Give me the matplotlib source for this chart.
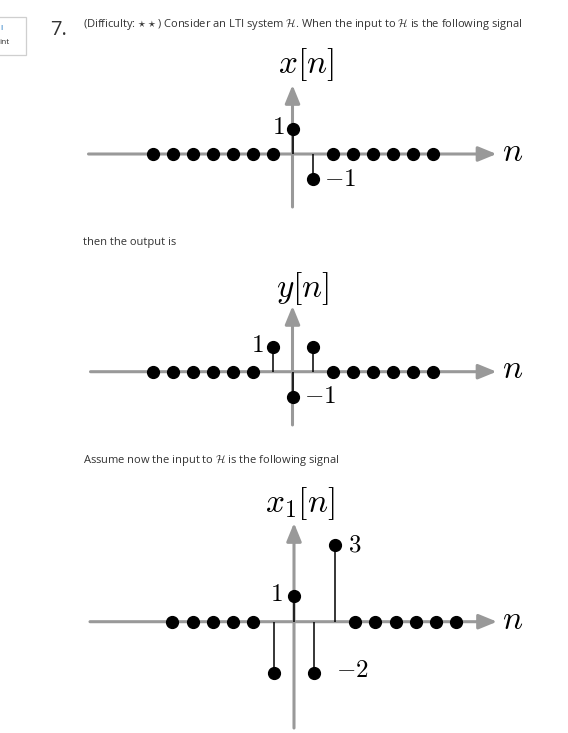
import matplotlib
matplotlib.use("Agg")
import matplotlib.pyplot as plt
from matplotlib.patches import Rectangle

plt.rcParams['mathtext.fontset'] = 'cm'
plt.rcParams['font.family'] = ['Open Sans', 'DejaVu Sans']

W, H = 568, 733

# signal values
n_x = list(range(-7, 8))
x_vals = [0, 0, 0, 0, 0, 0, 0, 1, -1, 0, 0, 0, 0, 0, 0]

n_y = list(range(-7, 8))
y_vals = [0, 0, 0, 0, 0, 0, 1, -1, 1, 0, 0, 0, 0, 0, 0]

n_x1 = list(range(-6, 9))
x1_vals = [0, 0, 0, 0, 0, -2, 1, -2, 3, 0, 0, 0, 0, 0, 0]

question = (r"(Difficulty: $\star\star$) Consider an LTI system $\mathcal{H}$. "
            r"When the input to $\mathcal{H}$ is the following signal")
middle = "then the output is"
lower = r"Assume now the input to $\mathcal{H}$ is the following signal"

txt = '#333333'
gray = '#999999'

fig = plt.figure(figsize=(W / 100, H / 100), dpi=100)

# page layer in pixel coordinates
bg = fig.add_axes([0, 0, 1, 1])
bg.set_xlim(0, W)
bg.set_ylim(H, 0)
bg.axis('off')

bg.add_patch(Rectangle((-2, 17), 27.5, 38, fill=False, ec='#cfcfcf', lw=0.9))
bg.text(0, 29, "l", color='#0f6cbf', fontsize=6, va='center')
bg.text(-1, 43, "int", color=txt, fontsize=6, va='center')
bg.text(50, 30, "7.", color=txt, fontsize=14.5, va='center')
bg.text(83, 25, question, color=txt, fontsize=8.05, va='center')
bg.text(83, 243, middle, color=txt, fontsize=8.05, va='center')
bg.text(83, 460, lower, color=txt, fontsize=8.05, va='center')


def signal_axes(top, bottom, n0, y0, ux, uy):
    ax = fig.add_axes([0, 1 - bottom / H, 1, (bottom - top) / H])
    ax.set_xlim(-n0 / ux, (W - n0) / ux)
    ax.set_ylim((y0 - bottom) / uy, (y0 - top) / uy)
    ax.axis('off')
    return ax


def draw_signal(ax, n, vals, xr, yr):
    ap = dict(arrowstyle='-|>,head_length=1.1,head_width=0.45', color=gray,
              lw=2.2, shrinkA=0, shrinkB=0, mutation_scale=10)
    ax.annotate('', xy=(xr[1], 0), xytext=(xr[0], 0), arrowprops=ap)
    ax.annotate('', xy=(0, yr[1]), xytext=(0, yr[0]), arrowprops=ap)
    ax.vlines(n, 0, vals, color='k', lw=1.1, zorder=3)
    ax.plot(n, vals, 'o', color='k', ms=8.5, zorder=4, clip_on=False)


# x[n]
ax1 = signal_axes(40, 215, 292.5, 154, 20, 25)
draw_signal(ax1, n_x, x_vals, (-10.2, 10.2), (-2.12, 2.76))
ax1.text(0.68, 3.56, r"$x[n]$", fontsize=24, ha='center', va='center')
ax1.text(10.98, 0.06, r"$n$", fontsize=24, ha='center', va='center')
ax1.text(-0.4, 1.05, r"$1$", fontsize=18, ha='right', va='center')
ax1.text(1.55, -1.0, r"$-1$", fontsize=18, ha='left', va='center')

# y[n]
ax2 = signal_axes(260, 430, 292.5, 371.7, 20, 25)
draw_signal(ax2, n_y, y_vals, (-10.1, 10.2), (-2.13, 2.63))
ax2.text(0.52, 3.33, r"$y[n]$", fontsize=24, ha='center', va='center')
ax2.text(11.0, 0.1, r"$n$", fontsize=24, ha='center', va='center')
ax2.text(-1.45, 1.05, r"$1$", fontsize=18, ha='right', va='center')
ax2.text(0.55, -1.0, r"$-1$", fontsize=18, ha='left', va='center')

# x1[n]
ax3 = signal_axes(475, 733, 294, 621.7, 20.3, 25.5)
draw_signal(ax3, n_x1, x1_vals, (-10.05, 10.0), (-4.17, 3.87))
ax3.text(0.3, 4.62, r"$x_1[n]$", fontsize=24, ha='center', va='center')
ax3.text(10.76, 0.04, r"$n$", fontsize=24, ha='center', va='center')
ax3.text(-0.55, 1.05, r"$1$", fontsize=18, ha='right', va='center')
ax3.text(2.66, 3.0, r"$3$", fontsize=18, ha='left', va='center')
ax3.text(2.07, -1.9, r"$-2$", fontsize=18, ha='left', va='center')

fig.savefig('out.png', dpi=100)
